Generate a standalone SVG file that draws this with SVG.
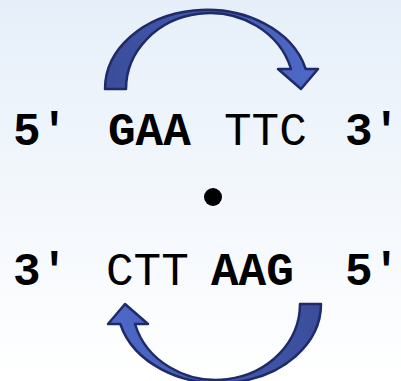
<svg xmlns="http://www.w3.org/2000/svg" width="401" height="381" viewBox="0 0 401 381">
<defs>
<linearGradient id="bg" x1="0" y1="0" x2="0" y2="1">
<stop offset="0" stop-color="#e6eff9"/>
<stop offset="1" stop-color="#ffffff"/>
</linearGradient>
<linearGradient id="arr" gradientUnits="userSpaceOnUse" x1="105" y1="0" x2="318" y2="0">
<stop offset="0" stop-color="#3a4d9a"/>
<stop offset="1" stop-color="#4f69c9"/>
</linearGradient>
<path id="curved" d="M105,89 A102,79 0 0 1 305.7,69 L318,69 L301,89 L278,69 L291,69 A84,76 0 0 0 126,89 Z"/>
</defs>
<style>
.arrow{fill:url(#arr);stroke:#1e2b66;stroke-width:2.5;stroke-linejoin:round}
.t{font-family:"Liberation Mono","Courier New",monospace;font-size:46px;fill:#000}
.b{font-weight:bold}
</style>
<rect width="401" height="381" fill="url(#bg)"/>
<g id="arrow-top"><use href="#curved" class="arrow"/></g>
<g id="arrow-bottom" transform="rotate(180 213 196.5)"><use href="#curved" class="arrow"/></g>
<g id="top-strand">
<text class="t b" x="13" y="145">5′</text>
<text class="t b" x="108" y="145">GAA</text>
<text class="t" x="224" y="145">TTC</text>
<text class="t b" x="345" y="145">3′</text>
</g>
<g id="dot"><circle cx="213" cy="197" r="9" fill="#000"/></g>
<g id="bottom-strand">
<text class="t b" x="13" y="285">3′</text>
<text class="t" x="106" y="285">CTT</text>
<text class="t b" x="211" y="285">AAG</text>
<text class="t b" x="345" y="285">5′</text>
</g>
</svg>
